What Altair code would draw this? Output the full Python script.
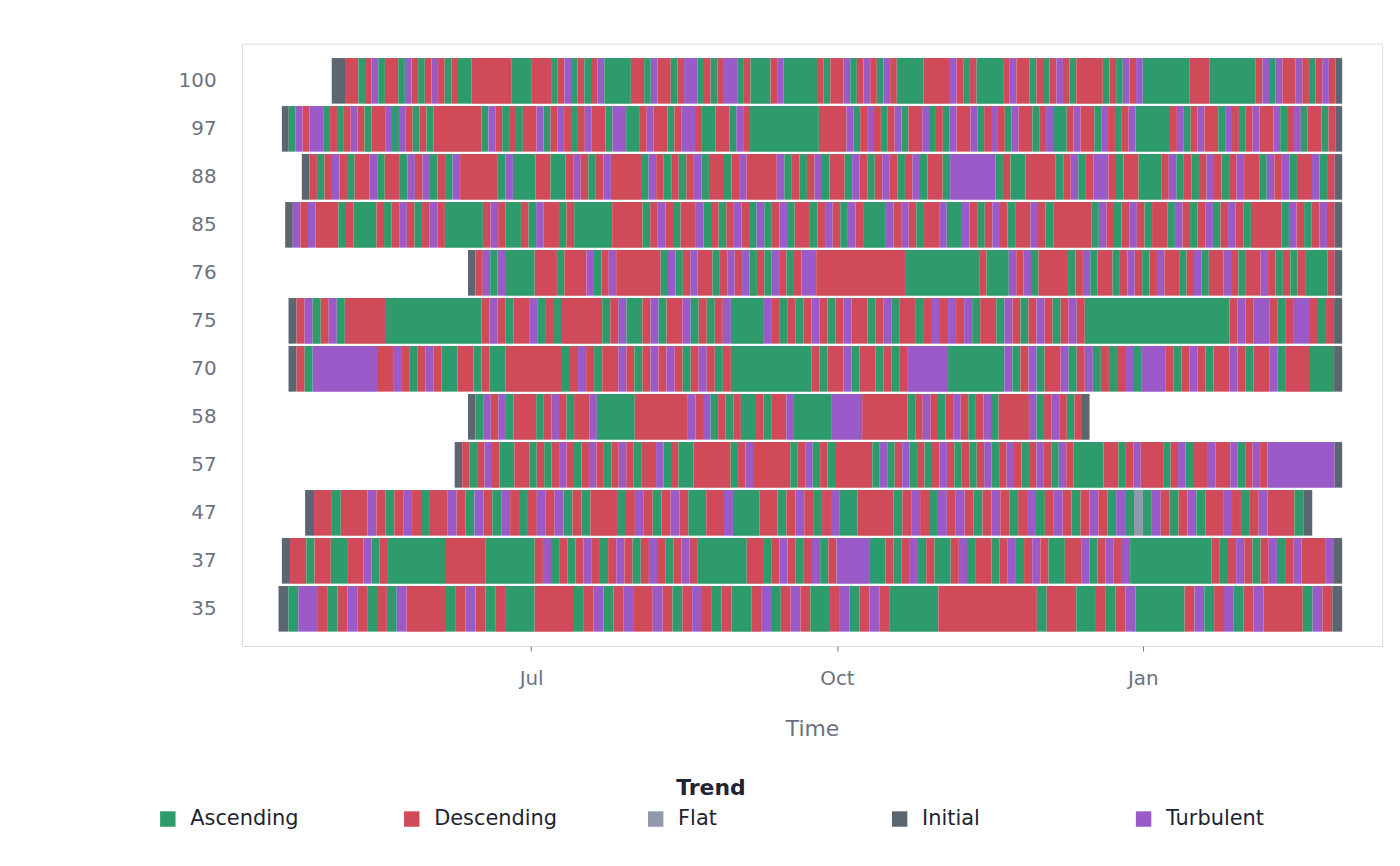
import pandas as pd
import altair as alt

# each character of a sequence = one equal slice of that row's span
# A=Ascending D=Descending F=Flat I=Initial T=Turbulent
rows = ["100", "97", "88", "85", "76", "75", "70", "58", "57", "47", "37", "35"]
starts = ["2022-05-02", "2022-04-17", "2022-04-23", "2022-04-18", "2022-06-12", "2022-04-19",
          "2022-04-19", "2022-06-12", "2022-06-08", "2022-04-24", "2022-04-17", "2022-04-16"]
ends = ["2023-03-02", "2023-03-02", "2023-03-02", "2023-03-02", "2023-03-02", "2023-03-02",
        "2023-03-02", "2022-12-16", "2023-03-02", "2023-02-21", "2023-03-02", "2023-03-02"]
sequences = [
    "II" + "DDADTADDATDADTDADAADD" + "DDDD" + "AAA" + "DDD" + "ADTADADTA" + "AAA" + "DDATDDADTTADADTTAD"
    + "AAA" + "DTA" + "AAAA" + "DADDTADTDATD" + "AAAA" + "DDDD" + "TDAD" + "AAAA" + "DTDDADADTDA" + "DDDD"
    + "ADATDT" + "AAAAAAA" + "DDD" + "AAAAAAA" + "DTATDDTDADTD" + "I",
    "I" + "ATDTTADADTDADDTATDADA" + "DDDDDDD" + "ATDADADDTADTDADTDDATTAADTDDADTTDAADDATD" + "AAAAAAAAAA"
    + "DDDD" + "TADTDADTADDTADATDDTADTDATDDADTAADTDDATDADT" + "AAAAA" + "DTADTDDATDADTDDTADTADDAD" + "I",
    "I" + "DADTDADDTADDATDTADAT" + "DDDDD" + "ATAAADDAADT" + "DADTDDDDATDAD" + "ADTADDADTDDDD"
    + "TADADTADDATDADTDADTADDAT" + "TTTTT" + "ADAADDDDADTADTTDADDAAA" + "DTADADTDADTDDATDTADDTAD" + "I",
    "I" + "TDTDDDADAAADADTDADTD" + "AAAAA" + "DTDAADATDDADAAAAA" + "DDDD" + "ADTDADDTADADTDATADTADDADTDATD"
    + "AAA" + "TDTDADDTAATDADTDADDTDAD" + "DDDD" + "ATDADTDADDATDADTADTDAD" + "DDD" + "ATDADTDI",
    "I" + "DTAT" + "AAAA" + "DDD" + "ADDDT" + "ADTDDDDDD" + "ATADTDDADTDTADATDADTTD" + "DDDDDDDDDDD"
    + "AAAAAAAAAA" + "DAAA" + "TDTADDDD" + "ADTADDADTDADTDDADTADDTDADDTDADAD" + "AAAD" + "I",
    "I" + "DTADTADDDD" + "D" + "AAAAAAAAAAAA" + "DTDADDTADA" + "DDDDD" + "ADTAADTADDTADADT" + "AAAA"
    + "TDADADTDADTDDADTA" + "DDADTDTDTADDATDADTDADTD" + "AAAAAAAAAAAAAAAAA" + "ADTDTTDADTTDADI",
    "I" + "DATTTTTTTTDDTD" + "ADTDAADDADAA" + "DDDDDDD" + "ADTDADDTDADTDTDADTDAD" + "AAAAAAAAAA"
    + "DADDTADDADAD" + "TTTTT" + "AAAAAAA" + "TADTADDTADTADADTA" + "TTTD" + "ADTDADDTDADDTADDDAAAI",
    "I" + "ATDTADDDADTDADDTAAAAA" + "DDDDDDD" + "TDTADADAADADDT" + "AAAAA" + "TTTTDDDDDD"
    + "ADTDADTDADTADDDDTADTDADI",
    "I" + "DADTDAADDADADTDADTDADTDADDTADAA" + "DDDDD" + "ADTDDDDD"
    + "ADTADADDDDDATADTADADTDADADTADTDADTDATD" + "AAAA" + "DDADTDDDADTADDTDDTADTDTTTTTTTTTI",
    "I" + "DDADDDTDADTDADDTDATDATDADTDTADA" + "DDDADTDADTDAADDTAAADDA" + "DTDADTAADDDDADTDAT"
    + "DTDAD" + "TDADTADTDADTDAT" + "AFA" + "TDADTADDTDADTDDDAI",
    "I" + "DDADDAADDTADA" + "AAAAAA" + "DDDDD" + "AAAAAA" + "DTADADTDADTDADTDADTDA" + "AAAAA"
    + "DDADTDADTADT" + "TTT" + "AADADTADAADTADDADTADTDAADDTADTDT" + "AAAAAAAAAA" + "DADTDADTADTDDDTI",
    "I" + "ATTDADTDADAT" + "DDDD" + "ADTDADAAA" + "DDDD" + "ADTADTDDTDADTDADAADTADTDAADTADTDA"
    + "AAAA" + "DDDDDDDDDD" + "ADDDAADADT" + "AAAAA" + "DTADTADT" + "DDDD" + "ATDI",
]
names = {"A": "Ascending", "D": "Descending", "F": "Flat", "I": "Initial", "T": "Turbulent"}
trends = ["Ascending", "Descending", "Flat", "Initial", "Turbulent"]
colors = ["#2e9b6c", "#d14a5a", "#9099ab", "#5b6670", "#9a5bc9"]

recs = []
for row, s, e, seq in zip(rows, starts, ends, sequences):
    t0, t1 = pd.Timestamp(s), pd.Timestamp(e)
    unit = (t1 - t0) / len(seq)
    i = 0
    while i < len(seq):
        j = i
        while j < len(seq) and seq[j] == seq[i]:
            j += 1
        recs.append({"id": row, "start": t0 + unit * i, "end": t0 + unit * j, "Trend": names[seq[i]]})
        i = j
df = pd.DataFrame(recs)

chart = alt.Chart(df).mark_bar().encode(
    x=alt.X("start:T", title="Time",
            scale=alt.Scale(domain=["2022-04-05", "2023-03-14"]),
            axis=alt.Axis(format="%b", values=["2022-07-01", "2022-10-01", "2023-01-01"],
                          grid=False, labelFontSize=20, titleFontSize=22, labelColor="#6b7280",
                          titleColor="#6b7280", titleFontWeight="normal", domain=False,
                          tickColor="#6b7280", labelPadding=18, titlePadding=30)),
    x2="end:T",
    y=alt.Y("id:N", sort=rows, title=None,
            scale=alt.Scale(paddingInner=0.05, paddingOuter=0.3),
            axis=alt.Axis(labelFontSize=20, labelColor="#6b7280", ticks=False, domain=False,
                          labelPadding=26)),
    color=alt.Color("Trend:N", scale=alt.Scale(domain=trends, range=colors),
                    legend=alt.Legend(orient="none", legendX=-85, legendY=738,
                                      direction="horizontal", columns=5,
                                      symbolType="square", symbolSize=240, labelFontSize=21,
                                      titleFontSize=22, titleAnchor="middle", titleColor="#1f2430",
                                      labelColor="#1f2430", columnPadding=88, gridAlign="all",
                                      labelLimit=250, titlePadding=8, labelOffset=12)),
).properties(
    width=1145, height=605,
    padding={"left": 150, "top": 34, "right": 10, "bottom": 5},
).configure_view(stroke="#dddddd").configure(font="DejaVu Sans")

chart.save("out.html", embed_options={"renderer": "svg", "actions": False})
